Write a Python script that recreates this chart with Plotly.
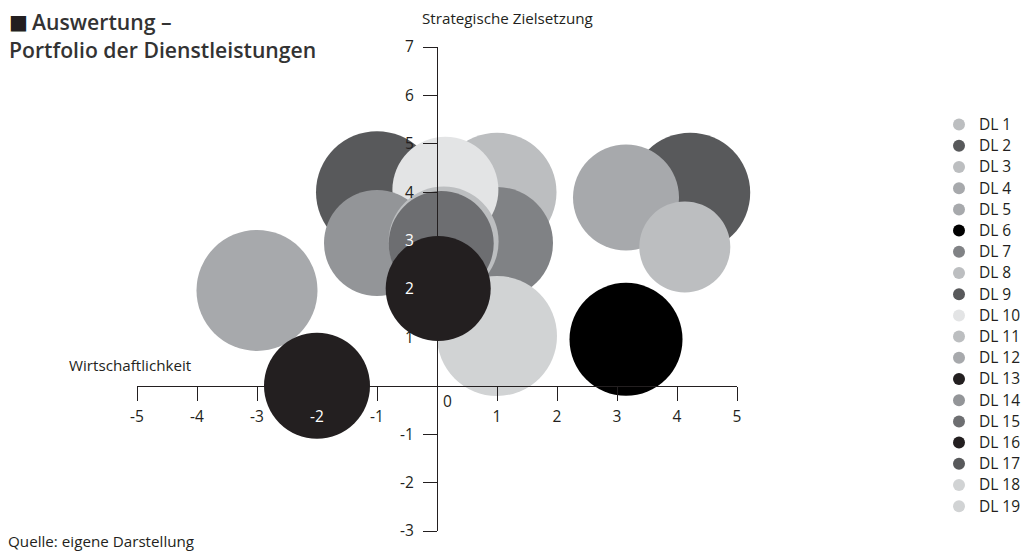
import plotly.graph_objects as go

# ---------------- data ----------------
namen = ["DL 1", "DL 2", "DL 3", "DL 4", "DL 5", "DL 6", "DL 7", "DL 8", "DL 9", "DL 10",
         "DL 11", "DL 12", "DL 13", "DL 14", "DL 15", "DL 16", "DL 17", "DL 18", "DL 19"]
wirtschaftlichkeit = [1.0, -1.0, 1.0, 3.15, -3.0, 3.15, 1.0, 4.13, 4.22, 0.14,
                      0.11, 3.15, -2.0, -1.0, 0.07, 0.02, -1.0, 1.0, 1.0]
zielsetzung = [4.0, 4.0, 4.0, 3.89, 1.97, 0.96, 2.95, 2.87, 3.99, 4.05,
               2.98, 3.89, 0.0, 2.95, 2.94, 2.01, 4.0, 1.03, 1.03]
groesse = [119, 122, 100, 106, 121, 113, 112, 91, 120, 106,
           110, 90, 106, 106, 105, 105, 100, 120, 100]
farben = ["#bcbec0", "#58595b", "#bcbec0", "#a7a9ac", "#a7a9ac", "#000000", "#808285", "#bcbec0",
          "#58595b", "#e3e4e5", "#bcbec0", "#a7a9ac", "#231f20", "#939598", "#6d6e71", "#231f20",
          "#58595b", "#d1d3d4", "#d1d3d4"]
# stacking order of the bubbles (bottom -> top), as in the picture
reihenfolge = [17, 2, 3, 1, 7, 10, 14, 11, 15, 19, 18, 16, 5, 13, 9, 12, 4, 8, 6]

x_ticks = [-5, -4, -3, -2, -1, 1, 2, 3, 4, 5]
y_ticks = [-3, -2, -1, 1, 2, 3, 4, 5, 6, 7]
x_ticktext = ["-5", "-4", "-3", "<span style='color:#ffffff'>-2</span>", "-1", "1", "2", "3", "4", "5"]
y_ticktext = ["-3", "-2", "-1", "1", "<span style='color:#ffffff'>2</span>",
              "<span style='color:#ffffff'>3</span>", "4", "5", "6", "7"]

# ---------------- figure ----------------
FONT = "Open Sans"
TXT = "#231f20"
W, H = 1021, 553
ML, MR, MT, MB = 137, 284, 47, 18
PW, PH = W - ML - MR, H - MT - MB


def px(xpix):
    return (xpix - ML) / PW


def py(ypix):
    return (H - MB - ypix) / PH


fig = go.Figure()
for nr in reihenfolge:
    i = nr - 1
    fig.add_trace(go.Scatter(
        x=[wirtschaftlichkeit[i]], y=[zielsetzung[i]],
        mode="markers",
        name="<span style='font-size:15.5px'>" + namen[i] + "</span>",
        legendrank=nr,
        cliponaxis=False,
        marker=dict(size=groesse[i], sizemode="diameter", color=farben[i],
                    opacity=1, line=dict(width=0)),
        hovertemplate=namen[i] + ": (%{x}, %{y})<extra></extra>",
    ))

axis_common = dict(
    showgrid=False, zeroline=False, showline=True, linecolor=TXT, linewidth=1.3,
    ticks="outside", tickcolor=TXT, tickwidth=1.3, ticklen=14,
    tickfont=dict(family=FONT, size=15.5, color=TXT),
    layer="above traces", fixedrange=True,
)

fig.update_layout(
    width=W, height=H,
    margin=dict(l=ML, r=MR, t=MT, b=MB),
    paper_bgcolor="white", plot_bgcolor="rgba(0,0,0,0)",
    font=dict(family=FONT, color=TXT),
    xaxis=dict(range=[-5, 5], anchor="free", position=0.3, side="bottom",
               tickvals=x_ticks, ticktext=x_ticktext,
               ticklabelstandoff=2, **axis_common),
    yaxis=dict(range=[-3, 7], anchor="free", position=0.5, side="left",
               tickvals=y_ticks, ticktext=y_ticktext,
               ticklabelstandoff=6, **axis_common),
    legend=dict(xref="container", yref="container", x=939 / W, y=1 - 109 / H,
                xanchor="left", yanchor="top", itemsizing="constant", maxheight=440,
                font=dict(family=FONT, size=14, color=TXT),
                bgcolor="rgba(0,0,0,0)", borderwidth=0, tracegroupgap=0),
    showlegend=True,
)

title_font = dict(family=FONT, size=21.2, color="#333333", weight=600)
lab_font = dict(family=FONT, size=15.2, color=TXT)
fig.update_layout(annotations=[
    dict(text="■", xref="paper", yref="paper",
         x=px(7), y=py(22), xanchor="left", yanchor="middle", showarrow=False,
         font=dict(family="DejaVu Sans", size=20, color="#231f20")),
    dict(text="Auswertung –", xref="paper", yref="paper", borderpad=0,
         x=px(31), y=py(6), xanchor="left", yanchor="top", showarrow=False,
         font=title_font),
    dict(text="Portfolio der Dienstleistungen", xref="paper", yref="paper", borderpad=0,
         x=px(8), y=py(34), xanchor="left", yanchor="top", showarrow=False,
         font=title_font),
    dict(text="Strategische Zielsetzung", xref="paper", yref="paper",
         x=px(507.5), y=py(18), xanchor="center", yanchor="middle", showarrow=False,
         font=lab_font),
    dict(text="Wirtschaftlichkeit", xref="paper", yref="paper",
         x=px(67), y=py(368), xanchor="left", yanchor="middle", showarrow=False,
         font=lab_font),
    dict(text="Quelle: eigene Darstellung", xref="paper", yref="paper",
         x=px(6), y=py(545), xanchor="left", yanchor="middle", showarrow=False,
         font=lab_font),
    dict(text="0", x=0, y=0, xref="x", yref="y", xanchor="left", yanchor="top",
         xshift=4, yshift=-2, showarrow=False,
         font=dict(family=FONT, size=15.5, color=TXT)),
])

fig.write_html("out.html")
